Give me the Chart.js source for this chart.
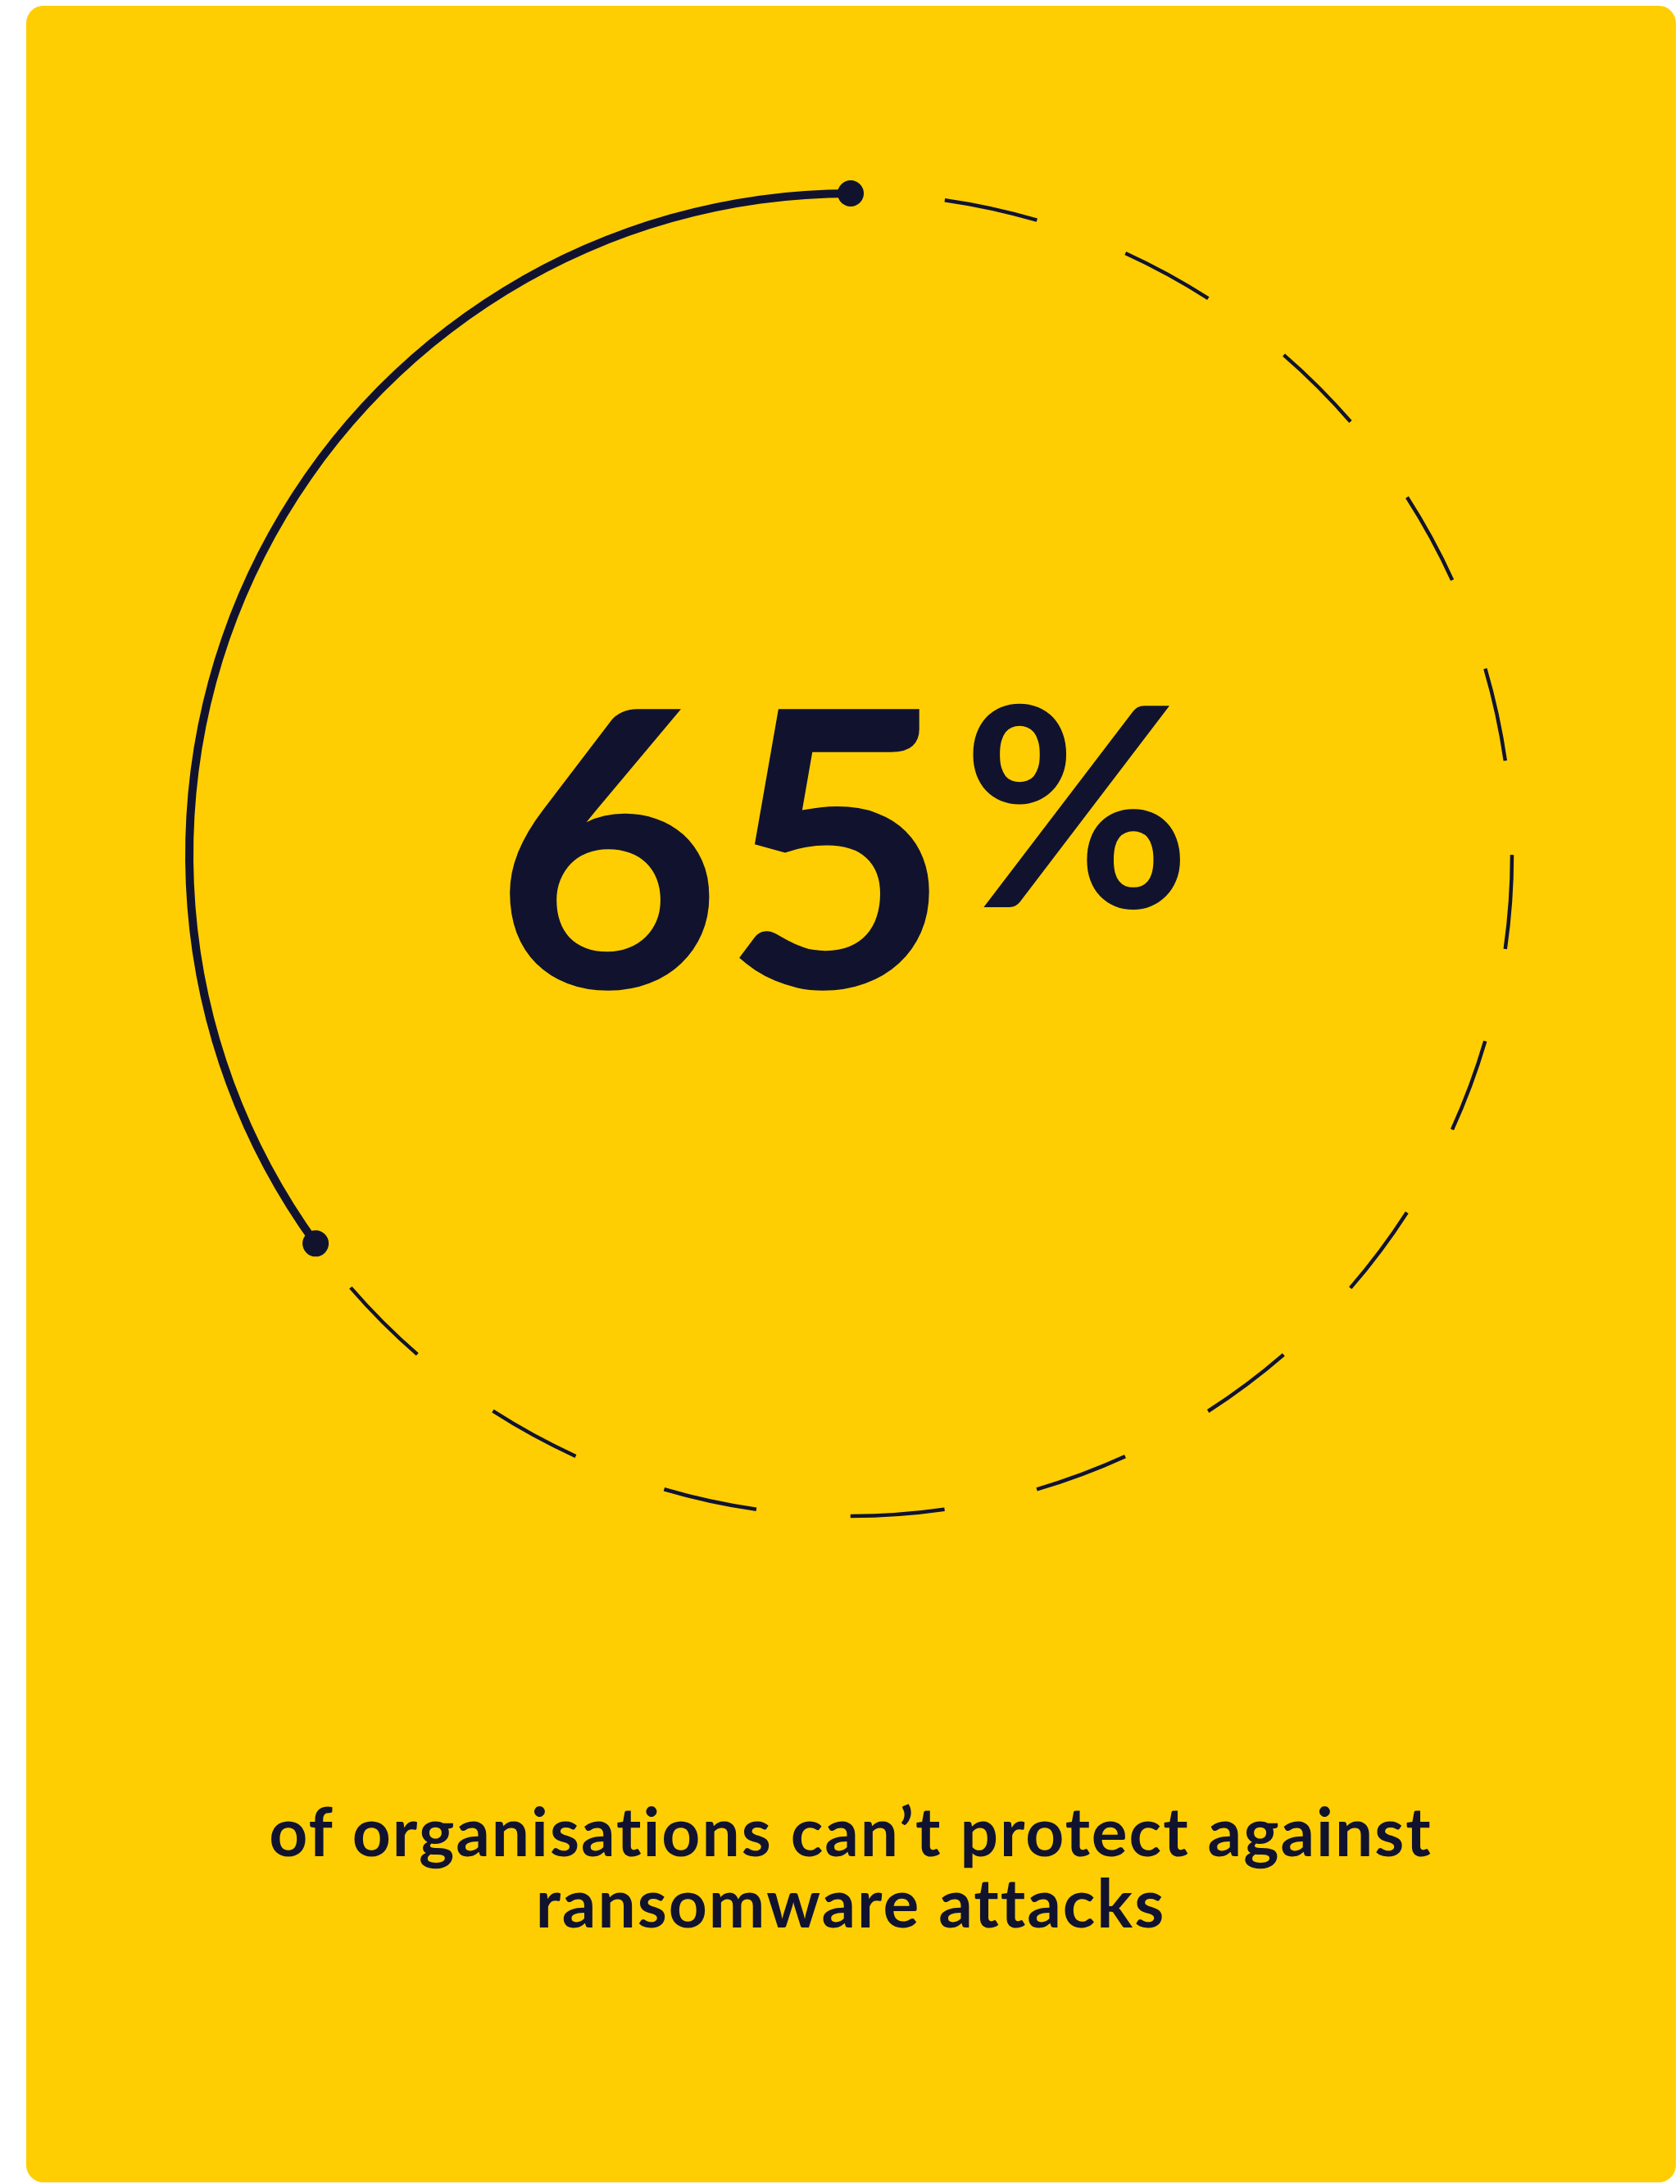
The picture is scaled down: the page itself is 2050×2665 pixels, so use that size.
<!DOCTYPE html>
<html>
<head>
<meta charset="utf-8">
<script src="https://cdn.jsdelivr.net/npm/chart.js@4.4.1/dist/chart.umd.min.js"></script>
<style>
  html, body { margin: 0; padding: 0; background: #ffffff; overflow: hidden; }
  .card { position: absolute; left: 32px; top: 7px; width: 2013px; height: 2656px; background: #FECE03; border-radius: 21px; }
  #wrap { position: absolute; left: 0; top: 0; width: 2050px; height: 2665px; }
</style>
</head>
<body>
<div class="card"></div>
<div id="wrap"><canvas id="chart"></canvas></div>
<script>
// share of organisations (dashed part = can't protect)
const segmentLabels = ["Can't protect", 'Can protect'];
const shareValues = [65, 35];
const headline = shareValues[0];
const captionLines = ['of organisations can\u2019t protect against', 'ransomware attacks'];

const NAVY = '#11132e';

// wider tracking for the caption (title plugin has no option for it)
const trackingPlugin = {
    id: 'tracking',
    beforeDraw(chart) {
        chart.ctx.letterSpacing = '2px';
    }
};

// draws text so its ink fills [left, right], scaled horizontally
function fitInk(ctx, text, left, right, baseline) {
    const m = ctx.measureText(text);
    const inkW = m.actualBoundingBoxLeft + m.actualBoundingBoxRight;
    const sx = (right - left) / inkW;
    ctx.save();
    ctx.translate(left, baseline);
    ctx.scale(sx, 1);
    ctx.fillText(text, m.actualBoundingBoxLeft, 0);
    ctx.restore();
}

// dashes and centre figure, drawn from the arc elements the library laid out
const ringPlugin = {
    id: 'ring',
    afterDatasetsDraw(chart) {
        const meta = chart.getDatasetMeta(0);
        const dashed = meta.data[0];
        const solid = meta.data[1];
        const ctx = chart.ctx;
        const r = (dashed.innerRadius + dashed.outerRadius) / 2;
        const unit = 2 * Math.PI * r / 44;

        ctx.save();
        ctx.letterSpacing = '0px';
        ctx.strokeStyle = NAVY;
        ctx.lineWidth = 4.5;
        ctx.setLineDash([unit, unit]);
        ctx.lineDashOffset = unit;
        ctx.beginPath();
        ctx.arc(dashed.x, dashed.y, r, dashed.startAngle, dashed.endAngle);
        ctx.stroke();

        // end dots of the solid arc
        ctx.setLineDash([]);
        ctx.fillStyle = NAVY;
        [solid.startAngle, solid.endAngle].forEach(a => {
            ctx.beginPath();
            ctx.arc(solid.x + r * Math.cos(a), solid.y + r * Math.sin(a), 16, 0, 2 * Math.PI);
            ctx.fill();
        });

        // big number
        const cx = dashed.x, cy = dashed.y;
        ctx.fillStyle = NAVY;
        ctx.textBaseline = 'alphabetic';
        ctx.textAlign = 'left';
        ctx.font = 'bold 470px Lato';
        fitInk(ctx, String(headline), cx - 421, cx + 99, cy + 162);
        ctx.font = 'bold 340px Lato';
        fitInk(ctx, '%', cx + 147, cx + 402, cy + 64);
        ctx.restore();
    }
};

new Chart(document.getElementById('chart'), {
    type: 'doughnut',
    data: {
        labels: segmentLabels,
        datasets: [{
            data: shareValues,
            backgroundColor: ['rgba(0,0,0,0)', NAVY],
            borderWidth: 0,
            hoverOffset: 0
        }]
    },
    options: {
        responsive: true,
        maintainAspectRatio: false,
        animation: false,
        radius: 812,
        cutout: 802,
        layout: {
            padding: { top: 231, left: 226, right: 200, bottom: 296 }
        },
        plugins: {
            legend: { display: false },
            tooltip: { enabled: false },
            title: {
                display: true,
                position: 'bottom',
                text: captionLines,
                color: NAVY,
                font: { family: 'Lato', weight: 'bold', size: 82, lineHeight: 1.061 },
                padding: { top: 340, bottom: 0 }
            }
        }
    },
    plugins: [trackingPlugin, ringPlugin]
});
</script>
</body>
</html>
